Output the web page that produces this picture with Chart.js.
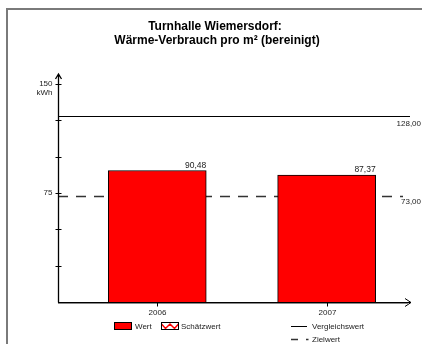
<!DOCTYPE html>
<html>
<head>
<meta charset="utf-8">
<script src="https://cdn.jsdelivr.net/npm/chart.js@4.4.0/dist/chart.umd.min.js"></script>
<style>
  html, body { margin: 0; padding: 0; background: #fff; }
  canvas { display: block; }
</style>
</head>
<body>
<canvas id="chart" width="422" height="344"></canvas>
<script>
const categories = ['2006', '2007'];
const wert = [90.48, 87.37];
const vergleichswert = 128.00;
const zielwert = 73.00;
const yTicks = [25, 50, 75, 100, 125, 150];
const yTickLabels = ['150', '75'];
const titleLines = ['Turnhalle Wiemersdorf:', 'Wärme-Verbrauch pro m² (bereinigt)'];
const unitLabel = 'kWh';

function fmt(v) {
  return v.toFixed(2).replace('.', ',');
}

const drawPlugin = {
  id: 'drawPlugin',
  beforeDatasetsDraw(chart) {
    const ctx = chart.ctx;
    const y = chart.scales.y;
    const left = chart.chartArea.left;
    ctx.save();
    // Zielwert dashed line (behind bars)
    const yz = Math.round(y.getPixelForValue(zielwert)) + 0.5;
    ctx.strokeStyle = '#333';
    ctx.lineWidth = 1.3;
    ctx.setLineDash([10, 8]);
    ctx.beginPath();
    ctx.moveTo(left, yz);
    ctx.lineTo(403, yz);
    ctx.stroke();
    ctx.restore();
  },
  afterDatasetsDraw(chart) {
    const ctx = chart.ctx;
    const x = chart.scales.x, y = chart.scales.y;
    const area = chart.chartArea;
    const left = area.left, bottom = Math.round(area.bottom) + 0.5;
    ctx.save();

    // frame
    ctx.strokeStyle = '#7a7a7a';
    ctx.lineWidth = 2;
    ctx.beginPath();
    ctx.moveTo(7, 344);
    ctx.lineTo(7, 9);
    ctx.lineTo(422, 9);
    ctx.stroke();

    // title
    ctx.fillStyle = '#000';
    ctx.font = 'bold 12px "Liberation Sans", Arial, sans-serif';
    ctx.textAlign = 'center';
    ctx.textBaseline = 'alphabetic';
    ctx.fillText(titleLines[0], 215, 30);
    ctx.fillText(titleLines[1], 217, 44);

    // Vergleichswert solid line
    const yv = Math.round(y.getPixelForValue(vergleichswert)) + 0.5;
    ctx.strokeStyle = '#000';
    ctx.lineWidth = 1;
    ctx.beginPath();
    ctx.moveTo(left, yv);
    ctx.lineTo(410, yv);
    ctx.stroke();

    ctx.font = '8px "Liberation Sans", Arial, sans-serif';
    ctx.fillStyle = '#222';
    ctx.textAlign = 'right';
    ctx.textBaseline = 'middle';
    ctx.fillText(fmt(vergleichswert), 421, yv + 7);
    ctx.fillText(fmt(zielwert), 421, y.getPixelForValue(zielwert) + 6);

    // bar value labels
    ctx.font = '8.5px "Liberation Sans", Arial, sans-serif';
    ctx.textBaseline = 'alphabetic';
    chart.getDatasetMeta(0).data.forEach((bar, i) => {
      ctx.fillText(fmt(wert[i]), bar.x + bar.width / 2, bar.y - 3);
    });

    // x axis
    ctx.strokeStyle = '#000';
    ctx.lineWidth = 1;
    ctx.beginPath();
    ctx.moveTo(left, bottom);
    ctx.lineTo(411, bottom);
    ctx.moveTo(405, bottom - 4);
    ctx.lineTo(411, bottom);
    ctx.lineTo(405, bottom + 4);
    ctx.stroke();
    ctx.strokeStyle = '#888';
    ctx.beginPath();
    ctx.moveTo(left, bottom + 1);
    ctx.lineTo(408, bottom + 1);
    ctx.stroke();

    // y axis
    const ax = Math.round(left) + 0.5;
    ctx.strokeStyle = '#000';
    ctx.lineWidth = 1.3;
    ctx.beginPath();
    ctx.moveTo(ax, bottom);
    ctx.lineTo(ax, 74);
    ctx.moveTo(ax - 3, 79);
    ctx.lineTo(ax, 74);
    ctx.lineTo(ax + 3, 79);
    ctx.stroke();

    // y ticks
    ctx.lineWidth = 1;
    yTicks.forEach(v => {
      const py = Math.round(y.getPixelForValue(v)) + 0.5;
      ctx.beginPath();
      ctx.moveTo(ax - 3, py);
      ctx.lineTo(ax + 3, py);
      ctx.stroke();
    });

    // y labels
    ctx.font = '8px "Liberation Sans", Arial, sans-serif';
    ctx.fillStyle = '#222';
    ctx.textAlign = 'right';
    ctx.textBaseline = 'middle';
    yTickLabels.forEach(t => {
      ctx.fillText(t, ax - 6, y.getPixelForValue(Number(t)));
    });
    ctx.fillText(unitLabel, ax - 6, y.getPixelForValue(150) + 9);

    // x ticks + labels
    ctx.textAlign = 'center';
    categories.forEach((c, i) => {
      const px = Math.round(x.getPixelForValue(i)) + 0.5;
      ctx.beginPath();
      ctx.moveTo(px, bottom);
      ctx.lineTo(px, bottom + 4);
      ctx.stroke();
      ctx.fillText(c, px, 313);
    });

    // legend
    ctx.textAlign = 'left';
    ctx.fillStyle = '#ff0000';
    ctx.fillRect(114.5, 322.5, 17, 7);
    ctx.strokeStyle = '#000';
    ctx.strokeRect(114.5, 322.5, 17, 7);
    ctx.fillStyle = '#222';
    ctx.fillText('Wert', 135, 326.5);

    ctx.fillStyle = '#fff';
    ctx.fillRect(161.5, 322.5, 17, 7);
    ctx.strokeStyle = '#ff0000';
    ctx.lineWidth = 1.5;
    ctx.beginPath();
    ctx.moveTo(161.5, 324);
    ctx.lineTo(165.5, 328.5);
    ctx.lineTo(170, 324);
    ctx.lineTo(174.5, 328.5);
    ctx.lineTo(178.5, 324);
    ctx.stroke();
    ctx.lineWidth = 1;
    ctx.strokeStyle = '#000';
    ctx.strokeRect(161.5, 322.5, 17, 7);
    ctx.fillStyle = '#222';
    ctx.fillText('Schätzwert', 181, 326.5);

    ctx.beginPath();
    ctx.moveTo(291, 326.5);
    ctx.lineTo(307, 326.5);
    ctx.stroke();
    ctx.fillText('Vergleichswert', 312, 326.5);

    ctx.save();
    ctx.lineWidth = 1.3;
    ctx.strokeStyle = '#333';
    ctx.setLineDash([7, 8]);
    ctx.beginPath();
    ctx.moveTo(291, 339.5);
    ctx.lineTo(308.5, 339.5);
    ctx.stroke();
    ctx.restore();
    ctx.fillText('Zielwert', 312, 339.5);

    ctx.restore();
  }
};

new Chart(document.getElementById('chart'), {
  type: 'bar',
  data: {
    datasets: [{
      label: 'Wert',
      data: categories.map((c, i) => ({ x: i, y: wert[i] })),
      backgroundColor: '#ff0000',
      borderColor: '#000',
      borderWidth: 1,
      barThickness: 98
    }]
  },
  options: {
    responsive: false,
    animation: false,
    devicePixelRatio: 1,
    layout: { padding: { left: 58, right: 11, top: 84, bottom: 42 } },
    scales: {
      x: { type: 'linear', min: -0.586, max: 1.498, offset: false, display: false },
      y: { min: 0, max: 150, display: false }
    },
    plugins: {
      legend: { display: false },
      tooltip: { enabled: false },
      title: { display: false }
    }
  },
  plugins: [drawPlugin]
});
</script>
</body>
</html>
